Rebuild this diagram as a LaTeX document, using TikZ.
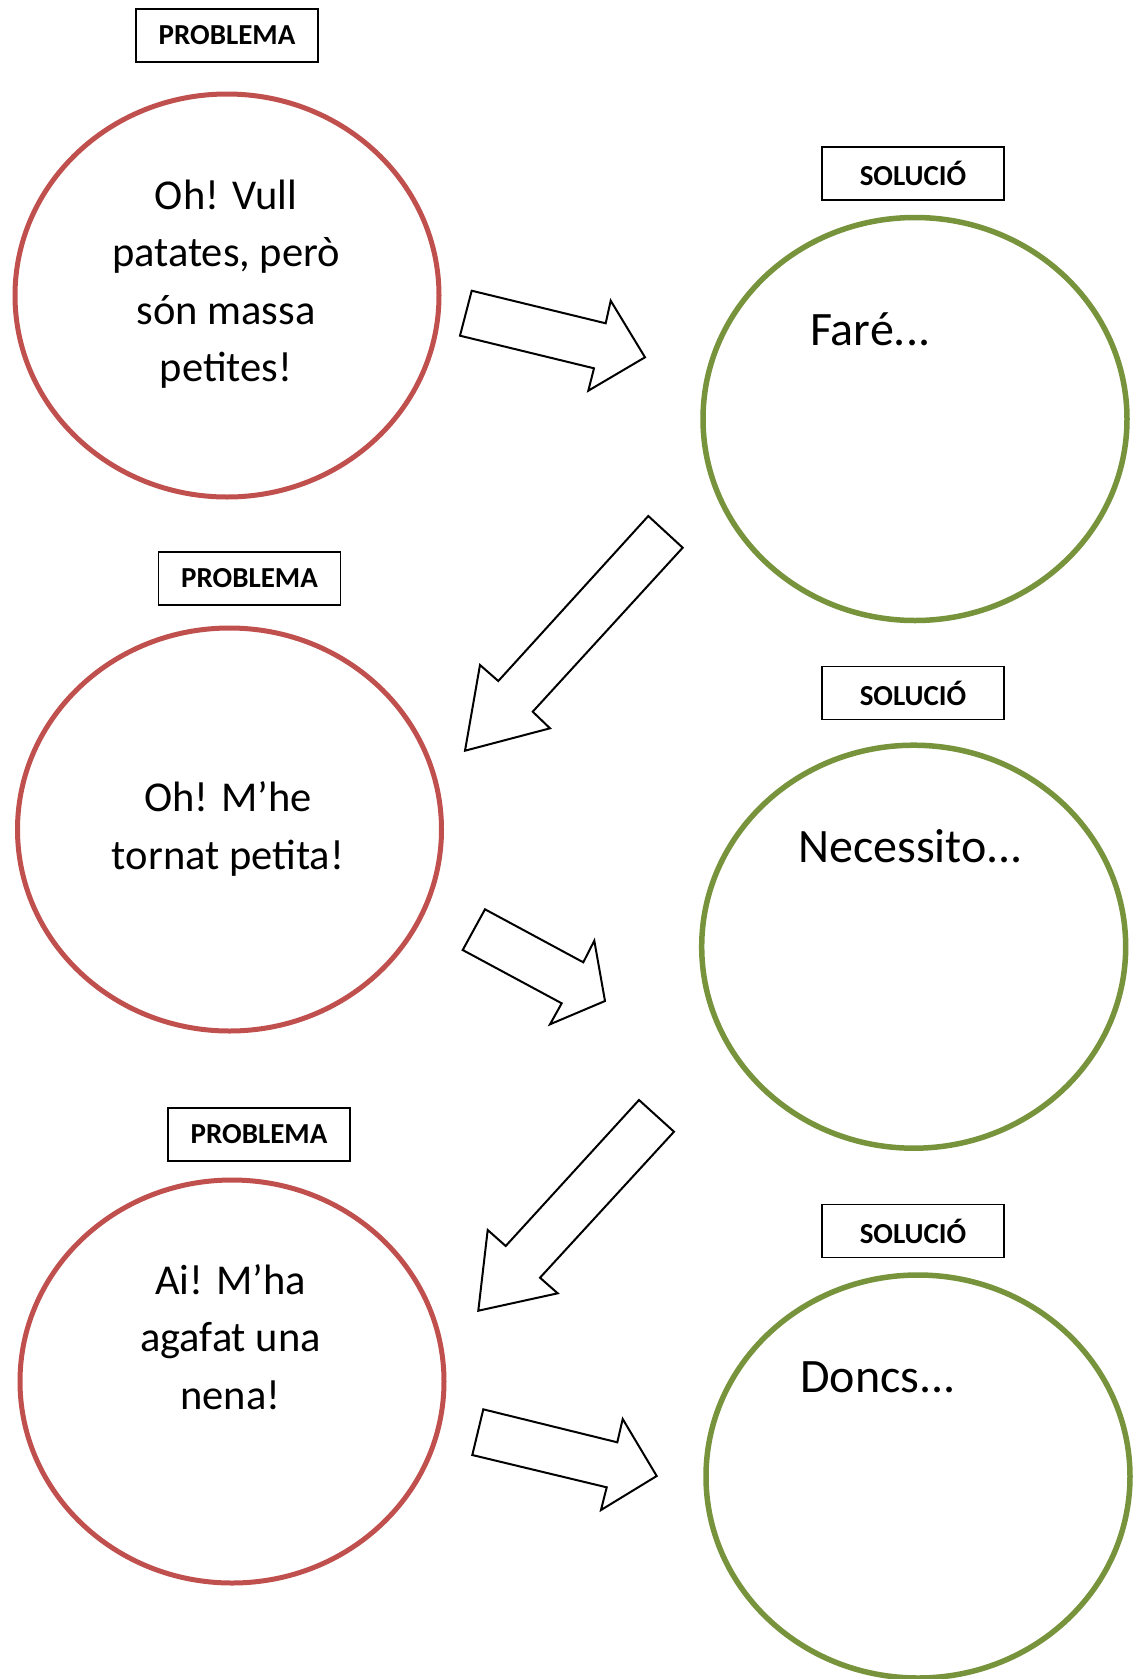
\documentclass[tikz,border=0pt]{standalone}
\usepackage{fontspec}
\setmainfont{Carlito}
\usepackage{tikz}
\usetikzlibrary{shapes.geometric}
\definecolor{probred}{HTML}{C0504D}
\definecolor{solgreen}{HTML}{77933C}
\tikzstyle{problem} = [ellipse,draw=probred,line width=5pt,minimum width=424pt,minimum height=403pt,inner sep=0pt]
\tikzstyle{solution} = [ellipse,draw=solgreen,line width=5.5pt,minimum width=424pt,minimum height=403pt,inner sep=0pt]
\tikzstyle{tag} = [draw,line width=1.8pt,minimum width=182pt,minimum height=53pt,inner sep=0pt,font=\fontsize{29}{32}\selectfont\bfseries]
\tikzstyle{say} = [align=center,inner sep=0pt,font=\fontsize{42.5}{57.5}\selectfont]
\tikzstyle{start} = [inner sep=0pt,font=\fontsize{48}{55}\selectfont]
\tikzstyle{bigarrow} = [draw,line width=2pt,fill=white,line join=miter]

\begin{document}
\begin{tikzpicture}[x=1pt,y=-1pt]
    \useasboundingbox (0,0) rectangle (1136,1679);

    % problemes
    \node[tag] (l1) at (227,35.5) {PROBLEMA};
    \node[problem] (p1) at (227,295.5) {};
    \node[say,anchor=base] (t1) at (226,381.7) {Oh! Vull\\patates, però\\són massa\\petites!};

    \node[tag] (l2) at (249.5,578.5) {PROBLEMA};
    \node[problem] (p2) at (229.5,829.5) {};
    \node[say,anchor=base] (t2) at (228,869.3) {Oh! M’he\\tornat petita!};

    \node[tag] (l3) at (259,1134.5) {PROBLEMA};
    \node[problem] (p3) at (232,1381.5) {};
    \node[say,anchor=base] (t3) at (230.5,1409.3) {Ai! M’ha\\agafat una\\nena!};

    % solucions
    \node[tag] (m1) at (913,173.5) {SOLUCIÓ};
    \node[solution] (s1) at (915,419) {};
    \node[start,anchor=base west] (u1) at (810,345) {Faré...};

    \node[tag] (m2) at (913,693) {SOLUCIÓ};
    \node[solution] (s2) at (913.7,946.7) {};
    \node[start,anchor=base west] (u2) at (798,862) {Necessito...};

    \node[tag] (m3) at (913,1231) {SOLUCIÓ};
    \node[solution] (s3) at (918,1476.5) {};
    \node[start,anchor=base west] (u3) at (800,1392) {Doncs...};

    % fletxes
    \draw[bigarrow] (471.7,290.7) -- (605.7,323.3) -- (610.7,300.7) -- (645,357.3)
        -- (588.3,390.7) -- (594,368.3) -- (460,335.7) -- cycle;
    \draw[bigarrow] (648.3,516) -- (682.7,547.7) -- (532.7,711.7) -- (550,728.3)
        -- (465,750.7) -- (480,665) -- (498.3,681) -- cycle;
    \draw[bigarrow] (485,909.3) -- (583.3,962.3) -- (594.3,940.7) -- (605,1001)
        -- (550,1024.3) -- (561.7,1003.3) -- (462.7,950) -- cycle;
    \draw[bigarrow] (639,1100) -- (674,1131.7) -- (540,1277.7) -- (557.7,1293.3)
        -- (478.3,1310.7) -- (487.7,1230) -- (505.7,1246) -- cycle;
    \draw[bigarrow] (483.3,1409.3) -- (617.3,1442.3) -- (622.7,1419) -- (656.7,1476)
        -- (601,1510) -- (606.7,1487.3) -- (472.3,1455) -- cycle;
\end{tikzpicture}
\end{document}
